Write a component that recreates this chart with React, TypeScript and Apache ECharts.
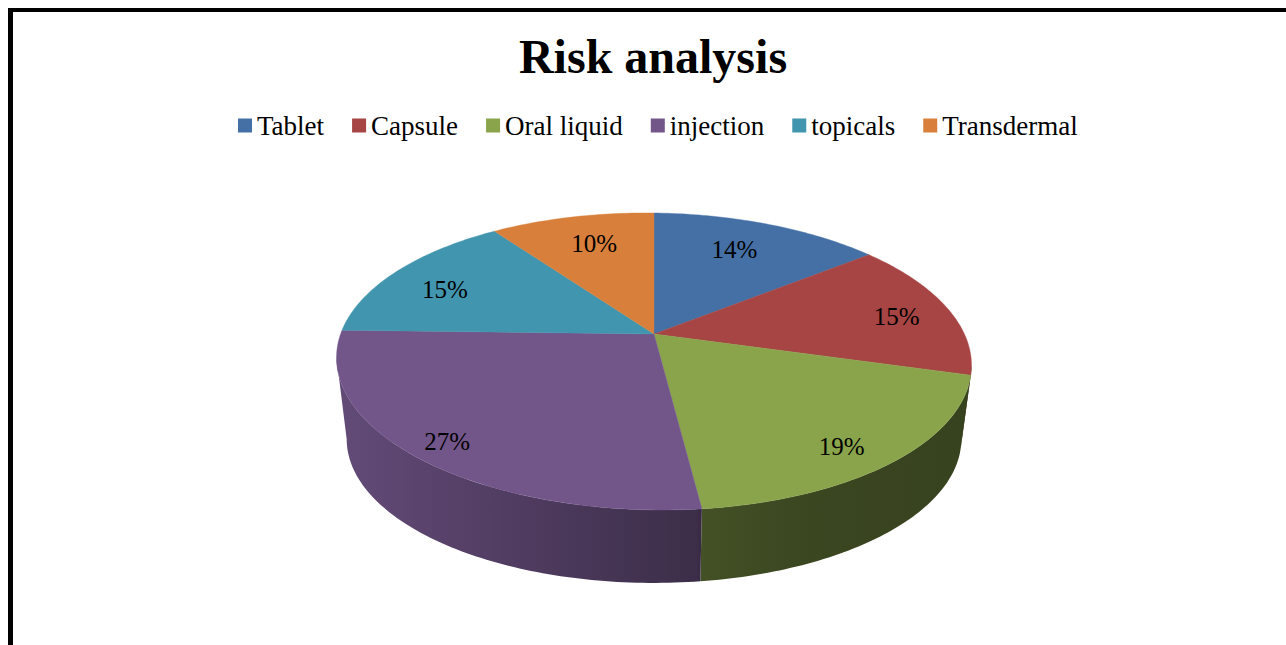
import React, { useEffect, useRef } from "react";
import * as echarts from "echarts";

// Shares of risk by dosage form, in percent
const categories = ["Tablet", "Capsule", "Oral liquid", "injection", "topicals", "Transdermal"];
const shares = [14, 15, 19, 27, 15, 10];
const sliceColors = ["#4570A6", "#A64543", "#8AA44C", "#72568A", "#4295AE", "#D8803B"];

// Projection of the tilted disc
const FONT = '"Liberation Serif", "Times New Roman", serif';
const CX = 654;
const CY = 334;
const RX = 312;
const RY = 143.4;
const PERSPECTIVE = 0.185;
const SHEAR = 0.012;
const BASE_SCALE_X = 0.968;
const BASE_SCALE_Y = 0.968;
const BASE_CY = 412.6;

// Label placement: radial fraction plus a small pixel correction per slice
const LABEL_RADIUS = 0.75;
const labelNudge = [
  [-8, 1],
  [21, 3],
  [15, 20],
  [-34, 20],
  [-13, 4],
  [4, 1],
];

// Brightness of the side wall along x: lit on the left, darkest on the right
const wallShade: [number, number][] = [
  [338, 0.87],
  [450, 0.76],
  [697, 0.53],
  [700, 0.49],
  [800, 0.43],
  [971, 0.4],
];

const total = shares.reduce((a, b) => a + b, 0);
const TO_RAD = Math.PI / 180;

function unit(deg: number, f = 1): [number, number] {
  return [f * Math.sin(deg * TO_RAD), -f * Math.cos(deg * TO_RAD)];
}

function flatPoint(deg: number, f = 1): number[] {
  const [x, y] = unit(deg, f);
  const s = 1 / (1 - PERSPECTIVE * y);
  return [CX + RX * x * s, CY + RY * y * s];
}

function topPoint(deg: number, f = 1): number[] {
  const [x, y] = flatPoint(deg, f);
  return [x, y + (x - CX) * SHEAR];
}

function basePoint(deg: number): number[] {
  const [x, y] = flatPoint(deg);
  return [CX + (x - CX) * BASE_SCALE_X, BASE_CY + (y - CY) * BASE_SCALE_Y];
}

function arcAngles(from: number, to: number): number[] {
  const out: number[] = [];
  const steps = Math.max(2, Math.ceil(to - from));
  for (let i = 0; i <= steps; i++) out.push(from + ((to - from) * i) / steps);
  return out;
}

function shadeColor(hex: string, factor: number): string {
  const n = parseInt(hex.slice(1), 16);
  const ch = (v: number) => Math.round(v * factor);
  return `rgb(${ch((n >> 16) & 255)},${ch((n >> 8) & 255)},${ch(n & 255)})`;
}

function wallFill(color: string) {
  const x0 = wallShade[0][0];
  const x1 = wallShade[wallShade.length - 1][0];
  return {
    type: "linear",
    x: x0,
    y: 0,
    x2: x1,
    y2: 0,
    global: true,
    colorStops: wallShade.map(([x, f]) => ({
      offset: (x - x0) / (x1 - x0),
      color: shadeColor(color, f),
    })),
  };
}

// The front wall is visible between the two silhouette tangents of the disc
const TANGENT = Math.acos(-PERSPECTIVE) / TO_RAD;
const WALL_FROM = TANGENT;
const WALL_TO = 360 - TANGENT;

function sliceSeries(index: number) {
  const before = shares.slice(0, index).reduce((a, b) => a + b, 0);
  return {
    type: "custom",
    name: categories[index],
    coordinateSystem: "none",
    itemStyle: { color: sliceColors[index] },
    data: [[shares[index]]],
    renderItem: (_: unknown, api: any) => {
      const value = api.value(0);
      const start = (before / total) * 360;
      const end = ((before + value) / total) * 360;
      const mid = (start + end) / 2;
      const color = sliceColors[index];
      const children: any[] = [];

      const wallStart = Math.max(start, WALL_FROM);
      const wallEnd = Math.min(end, WALL_TO);
      if (wallEnd > wallStart) {
        const angles = arcAngles(wallStart, wallEnd);
        const points = [...angles.map((a) => topPoint(a)), ...angles.reverse().map((a) => basePoint(a))];
        children.push({
          type: "polygon",
          shape: { points },
          style: { fill: wallFill(color) },
        });
      }

      const rim = arcAngles(start, end).map((a) => topPoint(a));
      children.push({
        type: "polygon",
        shape: { points: [[CX, CY], ...rim] },
        style: { fill: color, stroke: color, lineWidth: 0.4 },
      });

      const [lx, ly] = topPoint(mid, LABEL_RADIUS);
      children.push({
        type: "text",
        x: lx + labelNudge[index][0],
        y: ly + labelNudge[index][1],
        style: {
          text: `${Math.round((value / total) * 100)}%`,
          fontFamily: FONT,
          fontSize: 25,
          fill: "#000000",
          align: "center",
          verticalAlign: "middle",
        },
      });
      return { type: "group", children };
    },
  };
}

export default function App() {
  const ref = useRef<HTMLDivElement>(null);

  useEffect(() => {
    const chart = echarts.init(ref.current!, undefined, { renderer: "svg" });
    chart.setOption({
      animation: false,
      backgroundColor: "#ffffff",
      title: {
        text: "Risk analysis",
        left: 648,
        top: 27,
        textAlign: "center",
        textStyle: { fontFamily: FONT, fontSize: 48, fontWeight: "bold", color: "#000000" },
      },
      legend: {
        data: categories,
        left: 233,
        top: 107,
        itemWidth: 14,
        itemHeight: 14,
        itemGap: 28,
        icon: "rect",
        textStyle: { fontFamily: FONT, fontSize: 27, color: "#000000" },
      },
      graphic: [
        { type: "rect", shape: { x: 8, y: 8, width: 5, height: 637 }, style: { fill: "#000000" } },
        { type: "rect", shape: { x: 8, y: 8, width: 1278, height: 4 }, style: { fill: "#000000" } },
      ],
      series: categories.map((_, i) => sliceSeries(i)),
    });
    return () => chart.dispose();
  }, []);

  return <div ref={ref} style={{ position: "fixed", left: 0, top: 0, width: 1286, height: 645 }} />;
}
